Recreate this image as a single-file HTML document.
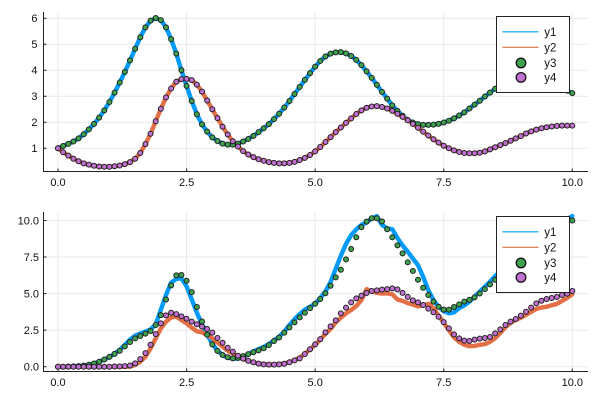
<!DOCTYPE html>
<html><head><meta charset="utf-8">
<style>html,body{margin:0;padding:0;background:#fff;}svg{display:block;font-family:"Liberation Sans",sans-serif;}</style>
</head><body>
<svg id="s" width="600" height="400" viewBox="0 0 600 400" xmlns="http://www.w3.org/2000/svg">
<rect width="600" height="400" fill="#fff"/>
<g stroke="#e9e9e9" stroke-width="1">
<line x1="58" y1="12" x2="58" y2="171"/><line x1="186.6" y1="12" x2="186.6" y2="171"/><line x1="315.2" y1="12" x2="315.2" y2="171"/><line x1="443.7" y1="12" x2="443.7" y2="171"/><line x1="572.3" y1="12" x2="572.3" y2="171"/>
<line x1="43" y1="148.3" x2="588" y2="148.3"/><line x1="43" y1="122.3" x2="588" y2="122.3"/><line x1="43" y1="96.3" x2="588" y2="96.3"/><line x1="43" y1="70.3" x2="588" y2="70.3"/><line x1="43" y1="44.3" x2="588" y2="44.3"/><line x1="43" y1="18.3" x2="588" y2="18.3"/>
<line x1="58" y1="212" x2="58" y2="371"/><line x1="186.6" y1="212" x2="186.6" y2="371"/><line x1="315.2" y1="212" x2="315.2" y2="371"/><line x1="443.7" y1="212" x2="443.7" y2="371"/><line x1="572.3" y1="212" x2="572.3" y2="371"/>
<line x1="43" y1="366.7" x2="588" y2="366.7"/><line x1="43" y1="330.15" x2="588" y2="330.15"/><line x1="43" y1="293.6" x2="588" y2="293.6"/><line x1="43" y1="257.05" x2="588" y2="257.05"/><line x1="43" y1="220.5" x2="588" y2="220.5"/>
</g>
<g stroke="#222" stroke-width="1" fill="none">
<path d="M43.5 12 V171.5 H588"/>
<path d="M43.5 212 V371.5 H588"/>
<path d="M43.5 148.3h3M43.5 122.3h3M43.5 96.3h3M43.5 70.3h3M43.5 44.3h3M43.5 18.3h3M58 171.5v-3M186.6 171.5v-3M315.2 171.5v-3M443.7 171.5v-3M572.3 171.5v-3"/>
<path d="M43.5 366.7h3M43.5 330.15h3M43.5 293.6h3M43.5 257.05h3M43.5 220.5h3M58 371.5v-3M186.6 371.5v-3M315.2 371.5v-3M443.7 371.5v-3M572.3 371.5v-3"/>
</g>
<g font-size="11" fill="#111" text-anchor="end">
<text x="37.5" y="152">1</text><text x="37.5" y="126">2</text><text x="37.5" y="100">3</text><text x="37.5" y="74">4</text><text x="37.5" y="48">5</text><text x="37.5" y="22">6</text>
<text x="39" y="370.5">0.0</text><text x="39" y="334">2.5</text><text x="39" y="297.5">5.0</text><text x="39" y="261">7.5</text><text x="39" y="224.5">10.0</text>
</g>
<g font-size="11" fill="#111" text-anchor="middle">
<text x="58" y="186">0.0</text><text x="186.6" y="186">2.5</text><text x="315.2" y="186">5.0</text><text x="443.7" y="186">7.5</text><text x="572.3" y="186">10.0</text>
<text x="58" y="386">0.0</text><text x="186.6" y="386">2.5</text><text x="315.2" y="386">5.0</text><text x="443.7" y="386">7.5</text><text x="572.3" y="386">10.0</text>
</g>
<g id="series"></g>
<g id="leg1">
<rect x="496.5" y="16.5" width="73" height="76" fill="#fff" stroke="#222" stroke-width="1"/>
<line x1="502.5" y1="31.8" x2="538.5" y2="31.8" stroke="#009af9" stroke-width="1.2"/>
<line x1="502.5" y1="47.3" x2="538.5" y2="47.3" stroke="#e26f46" stroke-width="1.2"/>
<circle cx="521" cy="63" r="4.8" fill="#3da44d" stroke="#111" stroke-width="1.3"/>
<circle cx="521" cy="77.4" r="4.8" fill="#c271d2" stroke="#111" stroke-width="1.3"/>
<g font-size="11.5" fill="#111"><text x="544.3" y="36">y1</text><text x="544.3" y="51.5">y2</text><text x="544.3" y="67">y3</text><text x="544.3" y="81.5">y4</text></g>
</g>
<g id="leg2">
<rect x="496.5" y="216.5" width="73" height="76" fill="#fff" stroke="#222" stroke-width="1"/>
<line x1="502.5" y1="231.8" x2="538.5" y2="231.8" stroke="#009af9" stroke-width="1.2"/>
<line x1="502.5" y1="247.3" x2="538.5" y2="247.3" stroke="#e26f46" stroke-width="1.2"/>
<circle cx="521" cy="263" r="4.8" fill="#3da44d" stroke="#111" stroke-width="1.3"/>
<circle cx="521" cy="277.4" r="4.8" fill="#c271d2" stroke="#111" stroke-width="1.3"/>
<g font-size="11.5" fill="#111"><text x="544.3" y="236">y1</text><text x="544.3" y="251.5">y2</text><text x="544.3" y="267">y3</text><text x="544.3" y="281.5">y4</text></g>
</g>
</svg>
<script>
(function(){
const ns="http://www.w3.org/2000/svg";
function el(tag,attrs,parent){const e=document.createElementNS(ns,tag);for(const k in attrs)e.setAttribute(k,attrs[k]);parent.appendChild(e);return e;}
const X=t=>58+51.43*t;
const YT=v=>174.3-26*v;
const YB=v=>366.7-14.62*v;

const tg=[1.00,1.09,1.17,1.26,1.38,1.54,1.73,1.94,2.18,2.46,2.78,3.14,3.53,3.94,4.38,4.83,5.27,5.65,5.91,6.01,5.93,5.65,5.20,4.64,4.00,3.40,2.82,2.31,1.92,1.64,1.42,1.28,1.18,1.14,1.14,1.18,1.26,1.36,1.48,1.62,1.77,1.93,2.12,2.33,2.57,2.82,3.09,3.36,3.63,3.89,4.14,4.36,4.53,4.64,4.69,4.70,4.65,4.55,4.40,4.20,3.96,3.71,3.44,3.17,2.91,2.65,2.44,2.25,2.09,1.99,1.93,1.90,1.90,1.91,1.94,1.99,2.06,2.15,2.26,2.38,2.53,2.68,2.83,2.99,3.14,3.29,3.43,3.56,3.67,3.76,3.82,3.85,3.84,3.80,3.73,3.64,3.54,3.43,3.32,3.22,3.12];
const tp=[1.00,0.85,0.72,0.60,0.50,0.42,0.37,0.33,0.30,0.29,0.29,0.31,0.34,0.39,0.47,0.60,0.82,1.16,1.56,2.04,2.52,2.96,3.30,3.56,3.66,3.67,3.62,3.45,3.18,2.84,2.50,2.16,1.83,1.53,1.27,1.07,0.89,0.76,0.66,0.58,0.52,0.47,0.44,0.42,0.42,0.44,0.48,0.55,0.63,0.74,0.88,1.05,1.24,1.43,1.62,1.80,1.98,2.15,2.32,2.46,2.56,2.61,2.62,2.59,2.53,2.44,2.33,2.21,2.08,1.94,1.79,1.64,1.49,1.35,1.22,1.10,1.00,0.92,0.86,0.82,0.81,0.81,0.83,0.88,0.96,1.04,1.12,1.20,1.29,1.38,1.47,1.57,1.65,1.72,1.77,1.81,1.84,1.86,1.87,1.87,1.87];

const bg=[0,0,0.01,0.02,0.04,0.07,0.13,0.22,0.34,0.49,0.67,0.88,1.09,1.39,1.69,1.94,2.10,2.26,2.44,2.85,3.53,4.60,5.56,6.25,6.27,5.88,5.10,4.08,3.09,2.19,1.53,1.08,0.80,0.65,0.57,0.60,0.72,0.86,0.99,1.12,1.26,1.48,1.76,2.00,2.33,2.69,3.03,3.37,3.69,4.01,4.31,4.63,5.02,5.54,6.11,6.63,7.34,8.05,8.85,9.55,9.92,10.15,10.15,9.94,9.40,8.85,8.30,7.75,7.14,6.55,5.95,5.40,4.90,4.45,4.10,3.90,3.90,4.08,4.26,4.45,4.58,4.74,5.01,5.31,5.63,5.95,6.30,6.70,7.10,7.50,7.90,8.25,8.60,8.90,9.15,9.40,9.60,9.75,9.85,9.95,10.00];
const bp=[0,0,0,0,0,0,0,0,0,0,0,0.01,0.02,0.04,0.08,0.23,0.52,0.93,1.50,2.23,2.96,3.51,3.69,3.60,3.44,3.28,3.08,2.90,2.74,2.58,2.33,1.96,1.64,1.30,1.03,0.75,0.55,0.41,0.30,0.21,0.16,0.14,0.14,0.16,0.20,0.30,0.43,0.57,0.87,1.19,1.53,1.89,2.35,2.76,3.17,3.65,4.04,4.40,4.67,4.86,5.04,5.18,5.22,5.27,5.31,5.36,5.29,5.05,4.78,4.54,4.40,4.22,3.97,3.72,3.42,3.05,2.62,2.21,1.94,1.78,1.76,1.85,1.92,1.96,2.03,2.28,2.55,2.85,3.08,3.26,3.49,3.76,4.04,4.33,4.51,4.63,4.70,4.77,4.90,4.99,5.18];
const bb=bg.slice();
const bbo={12:1.15,13:1.5,14:1.85,15:2.12,16:2.27,17:2.4,18:2.55,19:2.9,20:3.9,21:4.9,22:5.75,23:6.0,24:6.05,25:5.5,26:4.6,27:3.7,28:2.9,29:2.2,30:1.55,31:1.1,32:0.8,33:0.62,34:0.55,35:0.55,36:0.65,37:0.85,38:1.05,39:1.2,40:1.35,41:1.55,42:1.8,43:2.05,44:2.4,45:2.85,46:3.25,47:3.6,48:3.9,49:4.1,50:4.3,51:4.7,52:5.15,53:5.8,54:6.7,55:7.6,56:8.4,57:9.0,58:9.4,59:9.7,60:9.87,61:10.15,62:10.3,63:9.7,64:9.46,65:9.4,66:8.8,67:8.3,68:7.87,69:7.4,70:6.95,71:6.15,72:5.24,73:4.56,74:4.1,75:3.8,76:3.65,77:3.72,78:4.0,79:4.2,80:4.45,81:4.8,82:5.13,83:5.47,84:5.81,85:6.2,86:6.5,87:6.8,88:7.2,89:7.6,90:8.0,91:8.3,92:8.6,93:8.9,94:9.2,95:9.4,96:9.6,97:9.8,98:9.95,99:10.1,100:10.3};
for(const k in bbo)bb[k]=bbo[k];
const br=[0,0,0,0,0,0,0,0,0,0,0,0,0,0,0,0.12,0.34,0.68,1.25,1.94,2.62,3.08,3.37,3.42,3.19,2.96,2.67,2.42,2.35,2.17,1.94,1.66,1.37,1.09,0.90,0.70,0.52,0.40,0.30,0.22,0.17,0.15,0.15,0.17,0.22,0.32,0.45,0.62,0.88,1.18,1.50,1.85,2.25,2.58,3.03,3.35,3.65,3.88,4.15,4.56,5.30,5.15,5.05,5.00,5.02,4.95,4.60,4.50,4.35,4.25,4.12,4.20,4.30,4.00,3.50,3.00,2.50,2.00,1.70,1.50,1.40,1.42,1.50,1.55,1.70,1.95,2.30,2.70,3.00,3.20,3.35,3.55,3.75,3.95,4.05,4.10,4.20,4.30,4.50,4.70,4.95];

const G=document.getElementById("series");
function draw(Y,b,r,gr,pu){
  const pts=a=>a.map((v,i)=>X(i/10).toFixed(2)+","+Y(v).toFixed(2)).join(" ");
  const la={fill:"none","stroke-width":4.4,"stroke-linejoin":"round","stroke-linecap":"round"};
  el("polyline",Object.assign({points:pts(b),stroke:"#009af9"},la),G);
  el("polyline",Object.assign({points:pts(r),stroke:"#e26f46"},la),G);
  [[gr,"#3da44d"],[pu,"#c271d2"]].forEach(([a,c])=>{
    a.forEach((v,i)=>el("circle",{cx:X(i/10).toFixed(2),cy:Y(v).toFixed(2),r:2.5,fill:c,stroke:"#1f1f1f","stroke-width":1},G));
  });
}
draw(YT,tg,tp,tg,tp);
draw(YB,bb,br,bg,bp);
})();
</script>
</body></html>
